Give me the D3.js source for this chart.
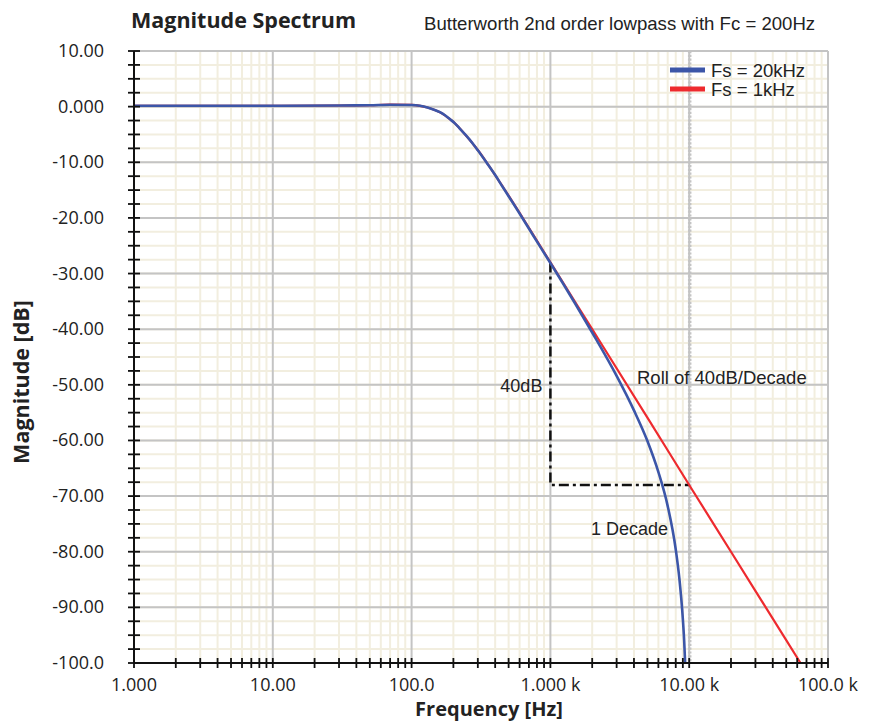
<!DOCTYPE html>
<html>
<head>
<meta charset="utf-8">
<script src="https://cdn.jsdelivr.net/npm/d3@7"></script>
<style>
  html, body { margin: 0; padding: 0; background: #fff; }
  svg { display: block; }
</style>
</head>
<body>
<svg id="chart" width="873" height="724"></svg>
<script>
// ---- data ----
const blueFreq = [1, 10, 30, 50, 70, 100, 115, 130, 145, 160, 175, 190, 205, 220, 240, 260, 280, 300, 350, 400, 450, 500, 600, 700, 850, 1000, 1500, 2000, 3000, 4000, 5000, 6000, 7000, 8000, 8500, 9000, 9200, 9350];
const blueDb   = [0.15, 0.15, 0.2, 0.25, 0.35, 0.3, 0.15, -0.15, -0.55, -1.0, -1.6, -2.3, -3.0, -3.8, -4.85, -5.85, -6.85, -7.85, -10.2, -12.3, -14.3, -16.1, -19.2, -21.9, -25.3, -28.1, -35.3, -40.6, -48.4, -54.6, -60.1, -65.7, -71.8, -79.6, -84.9, -92.1, -96.0, -100];
const redFreq  = [1, 10, 30, 50, 70, 100, 115, 130, 145, 160, 175, 190, 205, 220, 240, 260, 280, 300, 350, 400, 450, 500, 600, 700, 850, 1000, 2000, 5000, 10000, 20000, 50000, 63000];
const redDb    = [0.15, 0.15, 0.2, 0.25, 0.35, 0.3, 0.15, -0.15, -0.55, -1.0, -1.6, -2.3, -3.0, -3.8, -4.85, -5.85, -6.85, -7.8, -10.15, -12.3, -14.25, -16.0, -19.1, -21.8, -25.15, -28.0, -40.0, -55.9, -68.0, -80.0, -95.9, -99.9];
const seriesNames = ["Fs = 20kHz", "Fs = 1kHz"];
const seriesColors = ["#3c56a8", "#ee2a2e"];

const xMajor = [1, 10, 100, 1000, 10000, 100000];
const xTickLabels = ["1.000", "10.00", "100.0", "1.000 k", "10.00 k", "100.0 k"];
const yMajor = [10, 0, -10, -20, -30, -40, -50, -60, -70, -80, -90, -100];
const yTickLabels = ["10.00", "0.000", "-10.00", "-20.00", "-30.00", "-40.00", "-50.00", "-60.00", "-70.00", "-80.00", "-90.00", "-100.0"];
const yMinorStep = 2.5;

const nyquist = 10000;
const decadeTop = [1000, -28];
const decadeCorner = [1000, -68];
const decadeEnd = [10000, -68];

// ---- layout ----
const pLeft = 134, pRight = 828, pTop = 51, pBottom = 663;
const svg = d3.select("#chart");
const x = d3.scaleLog().domain([1, 100000]).range([pLeft, pRight]);
const y = d3.scaleLinear().domain([-100, 10]).range([pBottom, pTop]);

const xMinor = [];
for (let d = 1; d < 100000; d *= 10) for (let k = 2; k <= 9; k++) xMinor.push(d * k);
const yMinor = d3.range(-100, 10 + 0.001, yMinorStep);

const grid = svg.append("g");
// minor grid
grid.selectAll(".vmin").data(xMinor).join("line")
  .attr("x1", d => x(d)).attr("x2", d => x(d)).attr("y1", pTop).attr("y2", pBottom)
  .attr("stroke", "#f2eedf").attr("stroke-width", 2);
grid.selectAll(".hmin").data(yMinor).join("line")
  .attr("x1", pLeft).attr("x2", pRight).attr("y1", d => y(d)).attr("y2", d => y(d))
  .attr("stroke", "#f2eedf").attr("stroke-width", 2);
// major grid
grid.selectAll(".vmaj").data(xMajor).join("line")
  .attr("x1", d => x(d)).attr("x2", d => x(d)).attr("y1", pTop).attr("y2", pBottom)
  .attr("stroke", "#c4c4c4").attr("stroke-width", 2);
grid.selectAll(".hmaj").data(yMajor).join("line")
  .attr("x1", pLeft).attr("x2", pRight).attr("y1", d => y(d)).attr("y2", d => y(d))
  .attr("stroke", "#c4c4c4").attr("stroke-width", 2);

// Nyquist dotted line
svg.append("line")
  .attr("x1", x(nyquist) + 0.5).attr("x2", x(nyquist) + 0.5).attr("y1", pTop).attr("y2", pBottom)
  .attr("stroke", "#c4c4c4").attr("stroke-width", 3.5).attr("stroke-dasharray", "2.2,1.6");

// dash-dot triangle
const dd = d3.line().x(d => x(d[0])).y(d => y(d[1]));
svg.append("path")
  .attr("d", dd([decadeTop, decadeCorner, decadeEnd]))
  .attr("fill", "none").attr("stroke", "#111").attr("stroke-width", 2.5)
  .attr("stroke-dasharray", "10,4,3,4");

// curves
const line = d3.line().x(d => x(d[0])).y(d => y(d[1])).curve(d3.curveMonotoneX);
const redPts = redFreq.map((f, i) => [f, redDb[i]]);
const bluePts = blueFreq.map((f, i) => [f, blueDb[i]]);
svg.append("path").attr("d", line(redPts)).attr("fill", "none")
  .attr("stroke", seriesColors[1]).attr("stroke-width", 2.2);
svg.append("path").attr("d", line(bluePts)).attr("fill", "none")
  .attr("stroke", seriesColors[0]).attr("stroke-width", 2.6);

// axes
const yAxisG = svg.append("g");
yAxisG.append("line").attr("x1", pLeft).attr("x2", pLeft).attr("y1", pTop).attr("y2", pBottom)
  .attr("stroke", "#111").attr("stroke-width", 2);
yAxisG.selectAll(".yt").data(yMinor).join("line")
  .attr("x1", pLeft - 6).attr("x2", pLeft + 6).attr("y1", d => y(d)).attr("y2", d => y(d))
  .attr("stroke", "#111").attr("stroke-width", 1.8);
yAxisG.selectAll(".yl").data(yMajor).join("text")
  .attr("x", pLeft - 30).attr("y", d => y(d) + 6)
  .attr("text-anchor", "end")
  .attr("font-family", "'Open Sans', sans-serif").attr("font-size", 18).attr("fill", "#222")
  .text((d, i) => yTickLabels[i]);

const xAxisG = svg.append("g");
xAxisG.append("line").attr("x1", pLeft).attr("x2", pRight).attr("y1", pBottom).attr("y2", pBottom)
  .attr("stroke", "#111").attr("stroke-width", 2);
xAxisG.selectAll(".xt").data(xMajor.concat(xMinor)).join("line")
  .attr("x1", d => x(d)).attr("x2", d => x(d)).attr("y1", pBottom - 5).attr("y2", pBottom + 5)
  .attr("stroke", "#111").attr("stroke-width", 1.8);
xAxisG.selectAll(".xl").data(xMajor).join("text")
  .attr("x", d => x(d)).attr("y", pBottom + 28)
  .attr("text-anchor", "middle")
  .attr("font-family", "'Open Sans', sans-serif").attr("font-size", 18).attr("fill", "#222")
  .text((d, i) => xTickLabels[i]);

// titles
svg.append("text").attr("x", 131).attr("y", 28)
  .attr("font-family", "'Open Sans', sans-serif").attr("font-weight", "bold").attr("font-size", 21.5)
  .attr("fill", "#222").text("Magnitude Spectrum");
svg.append("text").attr("x", 424).attr("y", 30)
  .attr("font-family", "'Liberation Sans', Arial, sans-serif").attr("font-size", 18.6)
  .attr("fill", "#222").text("Butterworth 2nd order lowpass with Fc = 200Hz");
svg.append("text").attr("x", 489).attr("y", 716).attr("text-anchor", "middle")
  .attr("font-family", "'Open Sans', sans-serif").attr("font-weight", "bold").attr("font-size", 20)
  .attr("fill", "#222").text("Frequency [Hz]");
svg.append("text").attr("transform", "translate(29,382) rotate(-90)").attr("text-anchor", "middle")
  .attr("font-family", "'Open Sans', sans-serif").attr("font-weight", "bold").attr("font-size", 21.5)
  .attr("fill", "#222").text("Magnitude [dB]");

// annotations
const annFont = "'Liberation Sans', Arial, sans-serif";
svg.append("text").attr("x", x(1000) - 8).attr("y", y(-50) + 7).attr("text-anchor", "end")
  .attr("font-family", annFont).attr("font-size", 18).attr("fill", "#222").text("40dB");
svg.append("text").attr("x", 637).attr("y", y(-50) - 1)
  .attr("font-family", annFont).attr("font-size", 18.5).attr("fill", "#222").text("Roll of 40dB/Decade");
svg.append("text").attr("x", 668).attr("y", 535).attr("text-anchor", "end")
  .attr("font-family", annFont).attr("font-size", 18).attr("fill", "#222").text("1 Decade");

// legend
const leg = svg.append("g");
seriesNames.forEach((name, i) => {
  const ly = 70 + i * 19;
  leg.append("line").attr("x1", 670).attr("x2", 705).attr("y1", ly).attr("y2", ly)
    .attr("stroke", seriesColors[i]).attr("stroke-width", 5);
  leg.append("text").attr("x", 711).attr("y", ly + 7)
    .attr("font-family", annFont).attr("font-size", 18.5).attr("fill", "#222").text(name);
});
</script>
</body>
</html>
